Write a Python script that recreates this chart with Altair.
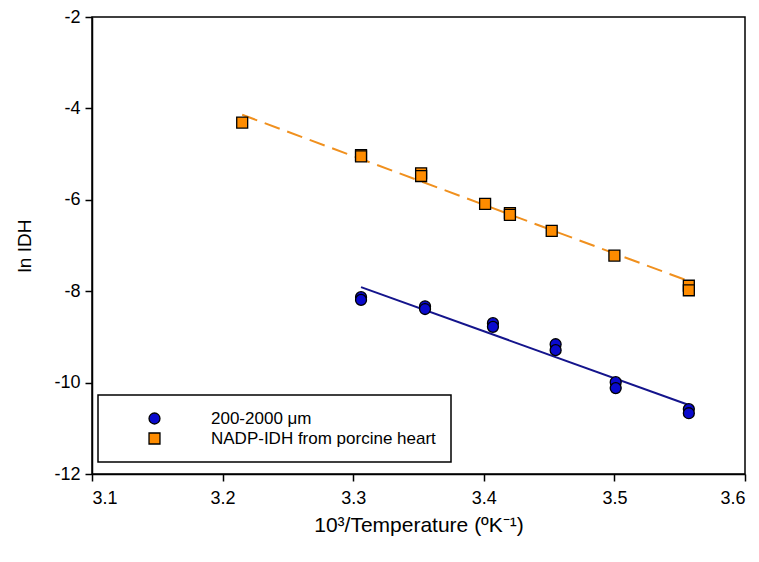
import altair as alt
import pandas as pd

# ---- data ----
series_names = ["200-2000 μm", "NADP-IDH from porcine heart"]

blue_x = [3.306, 3.306, 3.355, 3.355, 3.407, 3.407, 3.455, 3.455, 3.501, 3.501, 3.557, 3.557]
blue_y = [-8.13, -8.19, -8.33, -8.39, -8.70, -8.78, -9.16, -9.29, -9.99, -10.12, -10.58, -10.67]

orange_x = [3.215, 3.306, 3.306, 3.352, 3.352, 3.401, 3.420, 3.420, 3.452, 3.500, 3.557, 3.557]
orange_y = [-4.31, -5.02, -5.05, -5.42, -5.48, -6.09, -6.29, -6.33, -6.68, -7.22, -7.88, -7.98]

# fitted lines (end points)
blue_fit_x = [3.306, 3.557]
blue_fit_y = [-7.91, -10.49]
orange_fit_x = [3.215, 3.557]
orange_fit_y = [-4.14, -7.78]

x_ticks = [3.1, 3.2, 3.3, 3.4, 3.5, 3.6]
y_ticks = [-12, -10, -8, -6, -4, -2]

# ---- tables ----
points = pd.concat([
    pd.DataFrame({"x": blue_x, "y": blue_y, "series": series_names[0]}),
    pd.DataFrame({"x": orange_x, "y": orange_y, "series": series_names[1]}),
], ignore_index=True)
blue_fit = pd.DataFrame({"x": blue_fit_x, "y": blue_fit_y})
orange_fit = pd.DataFrame({"x": orange_fit_x, "y": orange_fit_y})

FONT = "Liberation Sans"

xscale = alt.Scale(domain=[3.1, 3.6], nice=False, zero=False)
yscale = alt.Scale(domain=[-12, -2], nice=False, zero=False)

xenc = alt.X("x:Q", scale=xscale,
             axis=alt.Axis(values=x_ticks, format=".1f",
                           title="10³/Temperature (ºK⁻¹)"))
yenc = alt.Y("y:Q", scale=yscale,
             axis=alt.Axis(values=y_ticks, labelExpr="'' + datum.value",
                           title="ln IDH"))

orange_line = alt.Chart(orange_fit).mark_line(
    color="#F0901E", strokeWidth=2, strokeDash=[16, 8]
).encode(x=xenc, y=yenc)

blue_line = alt.Chart(blue_fit).mark_line(
    color="#14148C", strokeWidth=2
).encode(x=xenc, y=yenc)

pts = alt.Chart(points).mark_point(
    filled=True, size=120, opacity=1, stroke="black", strokeWidth=1.3
).encode(
    x=xenc, y=yenc,
    color=alt.Color("series:N",
                    scale=alt.Scale(domain=series_names, range=["#0A0ACD", "#FF8C00"]),
                    legend=alt.Legend(
                        title=None, orient="none", legendX=6, legendY=378,
                        direction="vertical",
                        padding=15, symbolOffset=33, labelOffset=48,
                        strokeColor="black", fillColor="white",
                        labelFont=FONT, labelFontSize=17, labelColor="black",
                        labelLimit=500,
                        symbolSize=120, symbolStrokeColor="black",
                        symbolStrokeWidth=1.3, rowPadding=2,
                    )),
    shape=alt.Shape("series:N",
                    scale=alt.Scale(domain=series_names, range=["circle", "square"]),
                    legend=None),
)

chart = alt.layer(orange_line, blue_line, pts).properties(
    width=653, height=457,
    padding={"left": 92, "top": 17, "right": 14, "bottom": 88},
    autosize=alt.AutoSizeParams(type="none"),
    background="white",
).configure_view(
    stroke="black", strokeWidth=1.5
).configure_axis(
    grid=False,
    domainColor="black", domainWidth=1.5,
    tickColor="black", tickWidth=1.5, tickSize=7,
    labelFont=FONT, labelFontSize=18, labelColor="black",
    titleFont=FONT, titleColor="black", titleFontWeight="normal",
).configure_axisX(
    labelPadding=8, titlePadding=7, titleFontSize=21
).configure_axisY(
    labelPadding=5, titlePadding=19, titleFontSize=19
).configure_legend(
    strokeWidth=1.5
)

chart.save("out.html", embed_options={"renderer": "svg", "actions": False})
